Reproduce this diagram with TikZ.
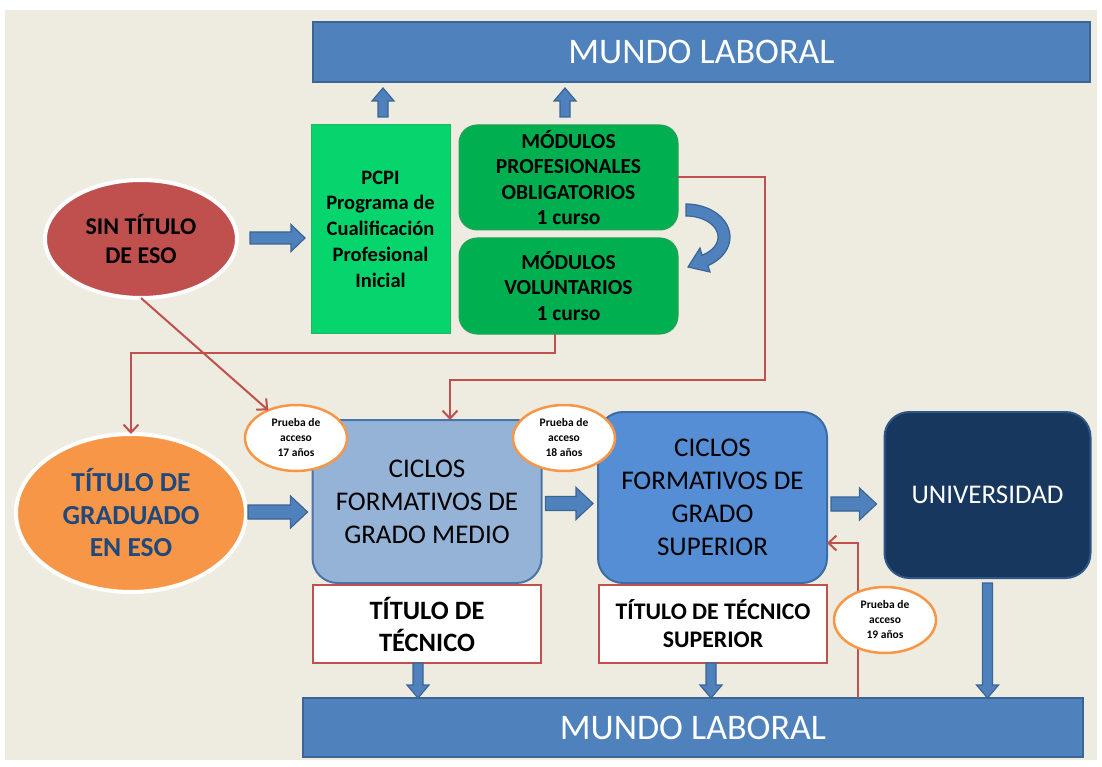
\documentclass[tikz,border=0pt]{standalone}
\usepackage{fontspec}
\setmainfont{Carlito}
\usetikzlibrary{shapes.geometric,calc,arrows.meta}
\definecolor{bgc}{HTML}{EEECE1}
\definecolor{barfill}{HTML}{4F81BD}
\definecolor{bardraw}{HTML}{3A6595}
\definecolor{pcpifill}{HTML}{06D56D}
\definecolor{pcpidraw}{HTML}{1FB863}
\definecolor{modfill}{HTML}{00B050}
\definecolor{moddraw}{HTML}{2A9E58}
\definecolor{redc}{HTML}{C0504D}
\definecolor{orangec}{HTML}{F79646}
\definecolor{gradtext}{HTML}{1F497D}
\definecolor{mediofill}{HTML}{95B3D7}
\definecolor{mediodraw}{HTML}{4A74A8}
\definecolor{supfill}{HTML}{558ED5}
\definecolor{supdraw}{HTML}{3D6BA3}
\definecolor{univfill}{HTML}{17375E}
\definecolor{univdraw}{HTML}{2E5686}
\newcommand{\myfs}[2]{\fontsize{#1}{#2}\selectfont}
% block arrow: from, to, shaft half width, head half width, head length
\newcommand{\barr}[5]{%
  \path let \p1=#1, \p2=#2 in \pgfextra{%
    \pgfmathsetmacro{\barangtmp}{atan2(\y2-\y1,\x2-\x1)}%
    \pgfmathsetmacro{\barlentmp}{veclen(\x2-\x1,\y2-\y1)}%
    \xdef\barang{\barangtmp}\xdef\barlen{\barlentmp}%
    \xdef\barx{\x1}\xdef\bary{\y1}};
  \begin{scope}[shift={(\barx,\bary)}, rotate=\barang, x=1pt, y=1pt]
    \draw[barrowst] (0,-#3) -- ({\barlen-#5},-#3) -- ({\barlen-#5},-#4) -- (\barlen,0)
      -- ({\barlen-#5},#4) -- ({\barlen-#5},#3) -- (0,#3) -- cycle;
  \end{scope}}
\tikzset{
  base/.style={inner sep=0pt, outer sep=0pt, align=center},
  bar/.style={base, draw=bardraw, fill=barfill, line width=1.5pt, text=white, font=\myfs{36}{40}},
  pcpibox/.style={base, draw=pcpidraw, fill=pcpifill, line width=1pt, font=\bfseries\myfs{20.5}{25.7}},
  modbox/.style={base, draw=moddraw, fill=modfill, line width=1pt, rounded corners=18pt, font=\bfseries\myfs{21.5}{25.3}},
  sinell/.style={base, ellipse, draw=white, line width=4pt, fill=redc, minimum width=192pt, minimum height=118pt, font=\bfseries\myfs{24}{29}},
  gradell/.style={base, ellipse, draw=white, line width=4pt, fill=orangec, minimum width=230pt, minimum height=158pt, text=gradtext, font=\bfseries\myfs{27.5}{32.5}},
  ciclo/.style={base, line width=2pt, rounded corners=25pt, font=\myfs{27}{33}},
  titbox/.style={base, draw=redc, fill=white, line width=2pt, minimum width=228pt, minimum height=78pt},
  prueba/.style={base, ellipse, draw=orangec, fill=white, line width=2.5pt, minimum width=102pt, minimum height=66pt, font=\bfseries\myfs{11.5}{15}},
  barrowst/.style={draw=bardraw, fill=barfill, line width=1.2pt},
  redline/.style={draw=redc, line width=2pt},
  redarrow/.style={redline, -{Straight Barb[length=8pt,width=15pt]}}
}
\begin{document}
\begin{tikzpicture}[x=1pt,y=-1pt]
\useasboundingbox (0,0) rectangle (1102,767);
\fill[white] (0,0) rectangle (1102,767);
\fill[bgc] (5,10) rectangle (1097,760);

% top
\node[bar, minimum width=777pt, minimum height=60pt] (mtop) at (701.5,52) {MUNDO LABORAL};
\node[pcpibox, minimum width=139pt, minimum height=208pt] (pcpi) at (380.5,229)
  {PCPI\\Programa de\\Cualificación\\Profesional\\Inicial};
\node[modbox, minimum width=219pt, minimum height=105pt] (mpo) at (568.5,177.5)
  {MÓDULOS\\PROFESIONALES\\OBLIGATORIOS\\1 curso};
\node[modbox, minimum width=219pt, minimum height=96pt] (mvo) at (568.5,286)
  {MÓDULOS\\VOLUNTARIOS\\1 curso};
\node[sinell] (sin) at (141,239) {SIN TÍTULO\\DE ESO};
\node[gradell] (grad) at (131,513) {TÍTULO DE\\GRADUADO\\EN ESO};

% middle row
\node[ciclo, draw=mediodraw, fill=mediofill, minimum width=229pt, minimum height=163pt] (medio) at (427,501.5)
  {CICLOS\\FORMATIVOS DE\\GRADO MEDIO};
\node[ciclo, draw=supdraw, fill=supfill, minimum width=229pt, minimum height=171pt] (sup) at (712.5,497.5)
  {CICLOS\\FORMATIVOS DE\\GRADO\\SUPERIOR};
\node[ciclo, draw=univdraw, fill=univfill, text=white, minimum width=206pt, minimum height=166pt, font=\myfs{27}{33}] (univ) at (987.5,495)
  {UNIVERSIDAD};
\node[titbox, font=\bfseries\myfs{26.5}{32}] (t1) at (427,624) {TÍTULO DE\\TÉCNICO};
\node[titbox, font=\bfseries\myfs{23.8}{28}] (t2) at (713,624) {TÍTULO DE TÉCNICO\\SUPERIOR};
\node[bar, minimum width=780pt, minimum height=59pt] (mbot) at (693,727.5) {MUNDO LABORAL};

% red connectors (behind the test ellipses)
\draw[redarrow] ($(mvo.south)+(-14,0)$) -- ++(0,19) -| (grad.north);
\draw[redarrow] (mpo.east) -- ++(87,0) |- ($(medio.north)+(23,-40)$) -- ($(medio.north)+(23,0)$);
\draw[redarrow] ($(mbot.north)+(165,0)$) |- ($(sup.east)+(0,45.5)$);

% prueba ellipses
\node[prueba] (p17) at (296,438) {Prueba de\\acceso\\17 años};
\node[prueba] (p18) at (564,438) {Prueba de\\acceso\\18 años};
\node[prueba] (p19) at (885,620) {Prueba de\\acceso\\19 años};

\draw[redarrow] (sin.south) -- (p17.135);

% block arrows
\barr{($(sin.east)+(13,-1)$)}{($(sin.east -| pcpi.west)+(-6,-1)$)}{6}{13.5}{14}
\barr{($(grad.east)+(2,-1)$)}{($(grad.east -| medio.west)+(-5,-1)$)}{7}{16}{17}
\barr{($(medio.east)+(4,2)$)}{($(medio.east -| sup.west)+(-5,2)$)}{7}{16}{17}
\barr{($(sup.east)+(4,6.5)$)}{($(sup.east -| univ.west)+(-8,6.5)$)}{7}{16}{17}
\barr{($(pcpi.north)+(2.5,-8)$)}{($(pcpi.north |- mtop.south)+(2.5,6)$)}{5}{11}{13}
\barr{($(mpo.north)+(-3.5,-8)$)}{($(mpo.north |- mtop.south)+(-3.5,6)$)}{5}{11}{13}
\barr{($(t1.south)+(-9,0)$)}{($(t1.south |- mbot.north)+(-9,0)$)}{5}{11}{13}
\barr{($(t2.south)+(-2,0)$)}{($(t2.south |- mbot.north)+(-2,0)$)}{5}{11}{13}
\barr{($(univ.south)+(0,5)$)}{(univ.south |- mbot.north)}{5}{11}{13}

% curved arrow between modules
\draw[barrowst] plot[domain=-90:60, samples=40] ({686+44*cos(\x)},{237+33*sin(\x)})
  -- (710,272) -- (688,267) -- (700,248)
  -- plot[domain=60:-90, samples=40] ({686+32*cos(\x)},{237+21*sin(\x)}) -- cycle;
\end{tikzpicture}
\end{document}
